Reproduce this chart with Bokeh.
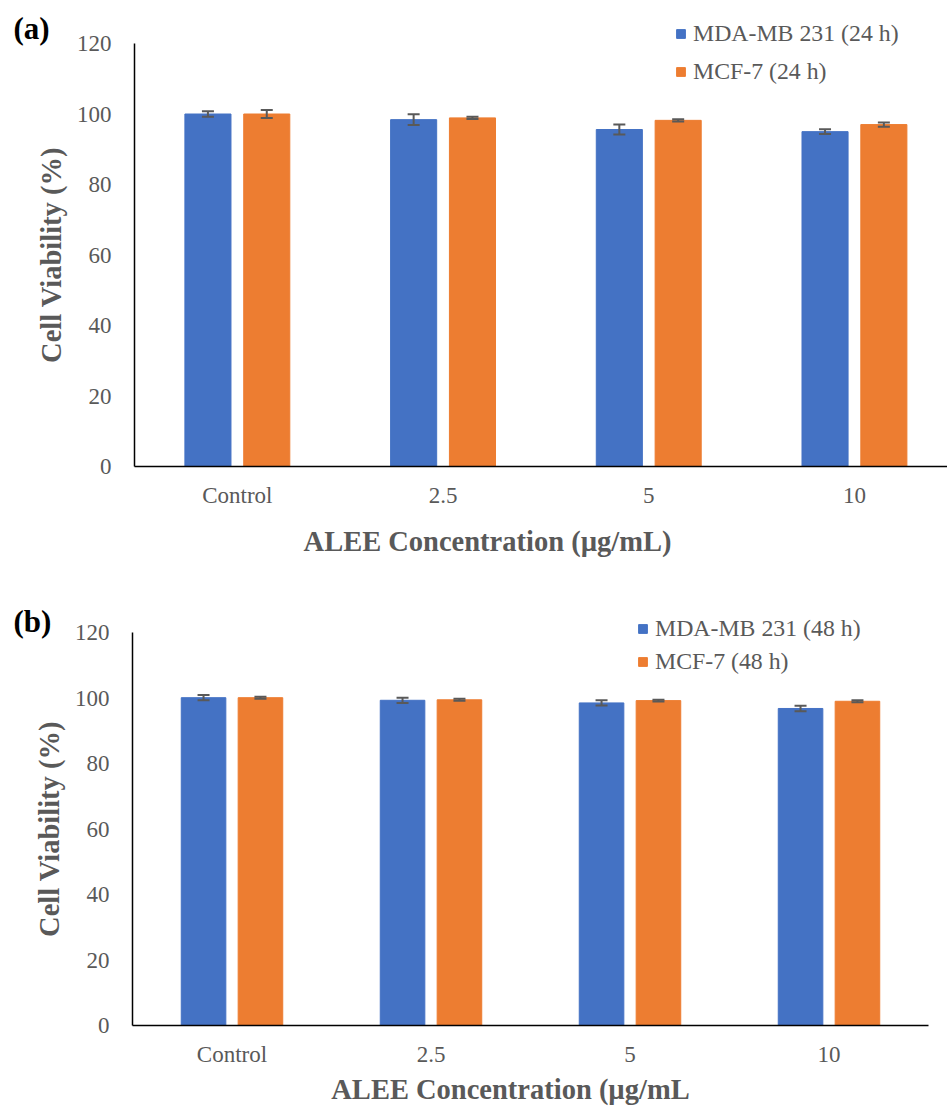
import math
from bokeh.plotting import figure
from bokeh.models import (Range1d, FixedTicker, Whisker, TeeHead, ColumnDataSource,
                          Legend, LegendItem, Label)
from bokeh.layouts import column
from bokeh.embed import file_html
from bokeh.resources import INLINE

categories = ["Control", "2.5", "5", "10"]
y_ticks = [0, 20, 40, 60, 80, 100, 120]

mda_24 = [100.0, 98.4, 95.6, 95.0]
mda_24_err = [0.8, 1.5, 1.4, 0.7]
mcf_24 = [100.0, 98.9, 98.2, 97.0]
mcf_24_err = [1.1, 0.3, 0.3, 0.6]

mda_48 = [100.1, 99.3, 98.5, 96.8]
mda_48_err = [0.8, 0.8, 0.8, 0.85]
mcf_48 = [100.1, 99.45, 99.2, 99.0]
mcf_48_err = [0.3, 0.3, 0.3, 0.3]

labels_24 = ["MDA-MB 231 (24 h)", "MCF-7 (24 h)"]
labels_48 = ["MDA-MB 231 (48 h)", "MCF-7 (48 h)"]
x_title_a = "ALEE Concentration (µg/mL)"
x_title_b = "ALEE Concentration (µg/mL"
y_title = "Cell Viability (%)"

BLUE = "#4472C4"
ORANGE = "#ED7D31"
GRAY = "#595959"
FONT = "Liberation Serif"
BAR_W = 0.224
OFF = 0.143
W = 947


def make_panel(tag, names, s1, e1, s2, e2, x_title, height,
               ax_x, ax_y, px_cat, px_unit, x_bound,
               legend_px, legend_spacing, tag_px, xtitle_px):
    # geometry: pixel position of the axes origin and scale per unit
    x0 = -ax_x / px_cat
    x1 = (W - ax_x) / px_cat
    y0 = -(height - ax_y) / px_unit
    y1 = ax_y / px_unit
    p = figure(width=W, height=height, output_backend="svg", toolbar_location=None,
               x_range=Range1d(x0, x1), y_range=Range1d(y0, y1))
    p.min_border_left = 0
    p.min_border_right = 0
    p.min_border_top = 0
    p.min_border_bottom = 0
    p.outline_line_color = None
    p.grid.visible = False

    centers = [i + 0.5 for i in range(len(categories))]
    renderers = []
    for vals, errs, sign, color in ((s1, e1, -1, BLUE), (s2, e2, 1, ORANGE)):
        src = ColumnDataSource(dict(
            x=[c + sign * OFF for c in centers],
            top=vals,
            up=[v + e for v, e in zip(vals, errs)],
            lo=[v - e for v, e in zip(vals, errs)],
        ))
        r = p.vbar(x="x", top="top", bottom=0, width=BAR_W, source=src,
                   fill_color=color, line_color=color)
        renderers.append(r)
        w = Whisker(source=src, base="x", upper="up", lower="lo",
                    line_color=GRAY, line_width=2, level="annotation",
                    upper_head=TeeHead(size=12, line_color=GRAY, line_width=2),
                    lower_head=TeeHead(size=12, line_color=GRAY, line_width=2))
        p.add_layout(w)

    p.xaxis.ticker = FixedTicker(ticks=centers)
    p.xaxis.major_label_overrides = {c: lab for c, lab in zip(centers, categories)}
    p.yaxis.ticker = FixedTicker(ticks=y_ticks)
    p.xaxis.fixed_location = 0
    p.yaxis.fixed_location = 0
    p.xaxis.bounds = (0, x_bound)
    p.yaxis.bounds = (0, 120)
    for ax in (p.xaxis, p.yaxis):
        ax.axis_line_color = "black"
        ax.axis_line_width = 1.5
        ax.major_tick_line_color = None
        ax.minor_tick_line_color = None
        ax.major_label_text_font = FONT
        ax.major_label_text_font_size = "23px"
        ax.major_label_text_color = GRAY
        ax.axis_label_text_font = FONT
        ax.axis_label_text_font_style = "bold"
        ax.axis_label_text_font_size = "28.5px"
        ax.axis_label_text_color = GRAY
    p.xaxis.major_label_standoff = 10
    p.yaxis.major_label_standoff = 17
    p.yaxis.axis_label = y_title
    p.yaxis.axis_label_standoff = 7

    # x-axis title
    p.add_layout(Label(x=(xtitle_px[0] - ax_x) / px_cat, y=(ax_y - xtitle_px[1]) / px_unit,
                       text=x_title, text_font=FONT, text_font_style="bold",
                       text_font_size="28.5px", text_color=GRAY, text_align="center",
                       text_baseline="middle"))

    legend = Legend(items=[LegendItem(label=n, renderers=[r]) for n, r in zip(names, renderers)],
                    location=(legend_px[0], height - legend_px[1]),
                    border_line_color=None, background_fill_alpha=0,
                    padding=0, margin=0, spacing=legend_spacing, glyph_width=11,
                    glyph_height=11, label_standoff=7, label_text_font=FONT,
                    label_text_font_size="23.8px", label_text_color=GRAY, label_height=22)
    p.add_layout(legend)

    p.add_layout(Label(x=(tag_px[0] - ax_x) / px_cat, y=(ax_y - tag_px[1]) / px_unit,
                       text=tag, text_font=FONT, text_font_style="bold",
                       text_font_size="31px", text_color="black",
                       text_baseline="middle"))
    return p


pa = make_panel("(a)", labels_24, mda_24, mda_24_err, mcf_24, mcf_24_err, x_title_a,
                height=575, ax_x=134, ax_y=466, px_cat=205.7, px_unit=3.525, x_bound=4.2,
                legend_px=(675, 85), legend_spacing=11, tag_px=(13, 28),
                xtitle_px=(487, 541))
pb = make_panel("(b)", labels_48, mda_48, mda_48_err, mcf_48, mcf_48_err, x_title_b,
                height=532, ax_x=132, ax_y=450, px_cat=199.0, px_unit=3.275, x_bound=4.0,
                legend_px=(637, 100), legend_spacing=6, tag_px=(13, 46),
                xtitle_px=(510, 514))

layout = column(pa, pb, spacing=0)
open("out.html", "w").write(file_html(layout, INLINE))
